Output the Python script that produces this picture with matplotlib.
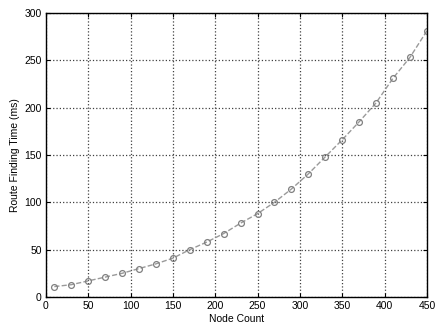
import matplotlib
matplotlib.use("Agg")
import matplotlib.pyplot as plt

# node counts and route finding times (ms)
node_count = [10, 30, 50, 70, 90, 110, 130, 150, 170, 190, 210, 230,
              250, 270, 290, 310, 330, 350, 370, 390, 410, 430, 450]
route_time = [11, 13, 17, 21, 25, 30, 35, 41, 50, 58, 67, 78,
              88, 100, 114, 130, 148, 166, 185, 205, 231, 253, 281]

x_ticks = [0, 50, 100, 150, 200, 250, 300, 350, 400, 450]
y_ticks = [0, 50, 100, 150, 200, 250, 300]

plt.rcParams['font.family'] = ['Liberation Sans', 'DejaVu Sans']

fig = plt.figure(figsize=(4.41, 3.30), dpi=100)
ax = fig.add_axes([0.104, 0.1, 0.864, 0.861])

ax.plot(node_count, route_time, linestyle='--', color='#9a9a9a', linewidth=1.0,
        marker='o', markersize=4.2, markerfacecolor='none', markeredgecolor='#808080',
        markeredgewidth=0.9)

ax.set_xlim(0, 450)
ax.set_ylim(0, 300)
ax.set_xticks(x_ticks)
ax.set_yticks(y_ticks)
ax.tick_params(direction='in', labelsize=7.5, length=3, width=0.8, pad=3,
               top=True, right=True)
ax.grid(True, linestyle=':', color='#404040', linewidth=0.9)

for s in ax.spines.values():
    s.set_linewidth(1.0)

ax.set_xlabel('Node Count', fontsize=7.5, labelpad=2)
ax.set_ylabel('Route Finding Time (ms)', fontsize=7.5, labelpad=3)

fig.savefig('out.png', dpi=100)
